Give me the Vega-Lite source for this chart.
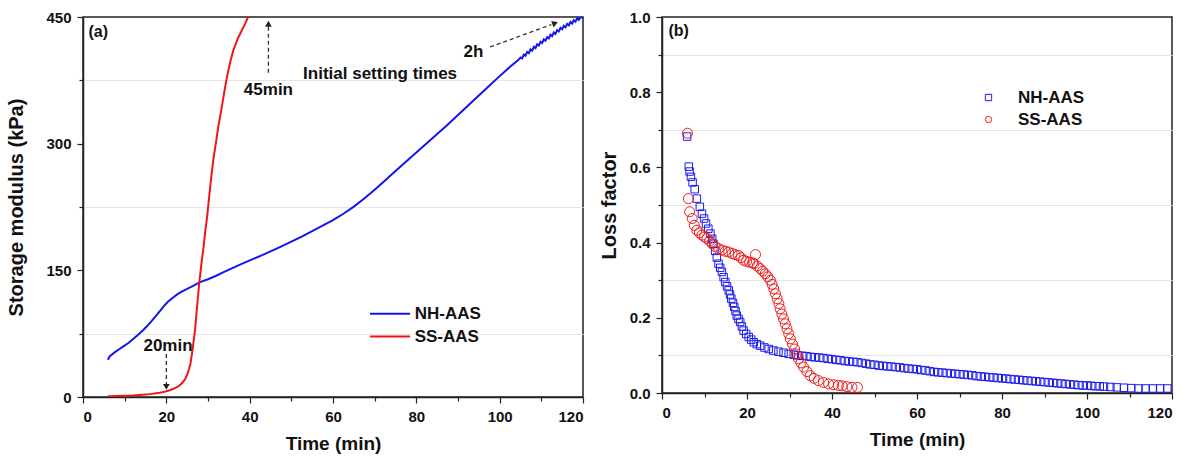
{
  "$schema": "https://vega.github.io/schema/vega-lite/v6.json",
  "usermeta": {"embedOptions": {"actions": false}},
  "background": "white",
  "padding": {"left": 6, "top": 9, "right": 5, "bottom": 5},
  "config": {
    "font": "Liberation Sans",
    "view": {"stroke": "#222222", "strokeWidth": 1.5},
    "axis": {
      "labelFont": "Liberation Sans", "labelFontWeight": "bold", "labelFontSize": 15, "labelColor": "#111111",
      "titleFont": "Liberation Sans", "titleFontWeight": "bold", "titleFontSize": 19, "titleColor": "#111111",
      "domainColor": "#222222", "domainWidth": 1.5, "tickColor": "#222222", "tickWidth": 1.2, "tickSize": 6,
      "grid": false, "labelPadding": 6
    },
    "legend": {"labelFont": "Liberation Sans", "labelFontWeight": "bold", "labelFontSize": 17, "labelColor": "#111111", "padding": 0}
  },
  "datasets": {
    "g": [
      {"s":"NH-AAS","t":6,"v":44},{"s":"NH-AAS","t":6.3,"v":47.5},{"s":"NH-AAS","t":6.6,"v":49},{"s":"NH-AAS","t":7.5,"v":52.5},{"s":"NH-AAS","t":8.5,"v":56},{"s":"NH-AAS","t":9.7,"v":60},{"s":"NH-AAS","t":10.9,"v":64},{"s":"NH-AAS","t":12.1,"v":69},{"s":"NH-AAS","t":13.3,"v":74},{"s":"NH-AAS","t":14.4,"v":79},{"s":"NH-AAS","t":15.4,"v":84},{"s":"NH-AAS","t":16.4,"v":89.5},{"s":"NH-AAS","t":17.4,"v":95.5},{"s":"NH-AAS","t":18.4,"v":101.5},{"s":"NH-AAS","t":19.3,"v":107},{"s":"NH-AAS","t":20.3,"v":112.5},{"s":"NH-AAS","t":21.4,"v":117},{"s":"NH-AAS","t":22.6,"v":121.5},{"s":"NH-AAS","t":23.8,"v":125},{"s":"NH-AAS","t":25,"v":128},{"s":"NH-AAS","t":26.2,"v":131},{"s":"NH-AAS","t":28.1,"v":136},{"s":"NH-AAS","t":30,"v":139.5},{"s":"NH-AAS","t":31.7,"v":143},{"s":"NH-AAS","t":34,"v":148.5},{"s":"NH-AAS","t":36.5,"v":154},{"s":"NH-AAS","t":38.5,"v":158.5},{"s":"NH-AAS","t":40.6,"v":163},{"s":"NH-AAS","t":43,"v":168},{"s":"NH-AAS","t":45,"v":172.5},{"s":"NH-AAS","t":47.5,"v":178},{"s":"NH-AAS","t":50,"v":184},{"s":"NH-AAS","t":52.5,"v":190},{"s":"NH-AAS","t":55,"v":196.5},{"s":"NH-AAS","t":57.5,"v":203},{"s":"NH-AAS","t":60,"v":209.5},{"s":"NH-AAS","t":62.5,"v":217},{"s":"NH-AAS","t":65,"v":225.5},{"s":"NH-AAS","t":67.5,"v":235},{"s":"NH-AAS","t":70,"v":245.5},{"s":"NH-AAS","t":72.5,"v":256.5},{"s":"NH-AAS","t":75,"v":267.5},{"s":"NH-AAS","t":77.5,"v":278.5},{"s":"NH-AAS","t":80,"v":289.5},{"s":"NH-AAS","t":82.5,"v":300.5},{"s":"NH-AAS","t":85,"v":311.5},{"s":"NH-AAS","t":87.5,"v":322.5},{"s":"NH-AAS","t":90,"v":334},{"s":"NH-AAS","t":92.5,"v":345.5},{"s":"NH-AAS","t":95,"v":357},{"s":"NH-AAS","t":97.5,"v":368.5},{"s":"NH-AAS","t":100,"v":380},{"s":"NH-AAS","t":102.5,"v":391},
      {"s":"NH-AAS","t":104.6,"v":399.5},{"s":"NH-AAS","t":105,"v":402},{"s":"NH-AAS","t":105.4,"v":401},{"s":"NH-AAS","t":105.8,"v":405.5},{"s":"NH-AAS","t":106.2,"v":404.1},{"s":"NH-AAS","t":106.6,"v":408.6},{"s":"NH-AAS","t":107,"v":407.1},{"s":"NH-AAS","t":107.4,"v":411.6},{"s":"NH-AAS","t":107.8,"v":410.1},{"s":"NH-AAS","t":108.2,"v":414.7},{"s":"NH-AAS","t":108.6,"v":413.2},{"s":"NH-AAS","t":109,"v":417.7},{"s":"NH-AAS","t":109.4,"v":416.2},{"s":"NH-AAS","t":109.8,"v":420.7},{"s":"NH-AAS","t":110.2,"v":419.2},{"s":"NH-AAS","t":110.6,"v":423.5},{"s":"NH-AAS","t":111,"v":421.9},{"s":"NH-AAS","t":111.4,"v":426.3},{"s":"NH-AAS","t":111.8,"v":424.6},{"s":"NH-AAS","t":112.2,"v":429},{"s":"NH-AAS","t":112.6,"v":427.3},{"s":"NH-AAS","t":113,"v":431.7},{"s":"NH-AAS","t":113.4,"v":430.1},{"s":"NH-AAS","t":113.8,"v":434.4},{"s":"NH-AAS","t":114.2,"v":432.8},{"s":"NH-AAS","t":114.6,"v":437.1},{"s":"NH-AAS","t":115,"v":435.5},{"s":"NH-AAS","t":115.4,"v":439.6},{"s":"NH-AAS","t":115.8,"v":437.7},{"s":"NH-AAS","t":116.2,"v":441.9},{"s":"NH-AAS","t":116.6,"v":440},{"s":"NH-AAS","t":117,"v":444.1},{"s":"NH-AAS","t":117.4,"v":442.2},{"s":"NH-AAS","t":117.8,"v":446.3},{"s":"NH-AAS","t":118.2,"v":444.5},{"s":"NH-AAS","t":118.6,"v":448.6},{"s":"NH-AAS","t":119,"v":446.7},{"s":"NH-AAS","t":119.4,"v":450},{"s":"NH-AAS","t":119.8,"v":449.2},{"s":"NH-AAS","t":120,"v":450},
      {"s":"SS-AAS","t":6,"v":0.8},{"s":"SS-AAS","t":8,"v":1.2},{"s":"SS-AAS","t":10,"v":1.5},{"s":"SS-AAS","t":12,"v":1.9},{"s":"SS-AAS","t":14.2,"v":2.7},{"s":"SS-AAS","t":16,"v":3.4},{"s":"SS-AAS","t":18,"v":4.6},{"s":"SS-AAS","t":19.8,"v":6.6},{"s":"SS-AAS","t":21,"v":8.3},{"s":"SS-AAS","t":22.2,"v":10.7},{"s":"SS-AAS","t":23,"v":13},{"s":"SS-AAS","t":23.8,"v":16.6},{"s":"SS-AAS","t":24.5,"v":21},{"s":"SS-AAS","t":25,"v":26.4},{"s":"SS-AAS","t":25.4,"v":32},{"s":"SS-AAS","t":25.8,"v":40},{"s":"SS-AAS","t":26.3,"v":56},{"s":"SS-AAS","t":26.9,"v":80},{"s":"SS-AAS","t":27.3,"v":103},{"s":"SS-AAS","t":27.9,"v":135},{"s":"SS-AAS","t":28.4,"v":157},{"s":"SS-AAS","t":28.9,"v":176},{"s":"SS-AAS","t":29.3,"v":194},{"s":"SS-AAS","t":29.8,"v":214},{"s":"SS-AAS","t":30.3,"v":238},{"s":"SS-AAS","t":30.8,"v":261},{"s":"SS-AAS","t":31.3,"v":282},{"s":"SS-AAS","t":31.9,"v":301},{"s":"SS-AAS","t":32.5,"v":321},{"s":"SS-AAS","t":33.2,"v":340},{"s":"SS-AAS","t":33.9,"v":361},{"s":"SS-AAS","t":34.6,"v":380},{"s":"SS-AAS","t":35.3,"v":396},{"s":"SS-AAS","t":36.1,"v":411},{"s":"SS-AAS","t":37.1,"v":424},{"s":"SS-AAS","t":38.2,"v":435},{"s":"SS-AAS","t":39,"v":443},{"s":"SS-AAS","t":39.6,"v":450}
    ],
    "leg": [
      {"s":"NH-AAS","t":68.9,"t2":78.5,"tl":79.6,"v":98.7},
      {"s":"SS-AAS","t":68.9,"t2":78.5,"tl":79.6,"v":71.5}
    ],
    "lf": [
      {"s":"NH-AAS","t":5.9,"v":0.682},{"s":"NH-AAS","t":6.3,"v":0.602},{"s":"NH-AAS","t":6.5,"v":0.589},{"s":"NH-AAS","t":6.8,"v":0.575},{"s":"NH-AAS","t":7.2,"v":0.56},{"s":"NH-AAS","t":7.7,"v":0.542},{"s":"NH-AAS","t":8.2,"v":0.517},{"s":"NH-AAS","t":8.9,"v":0.495},{"s":"NH-AAS","t":9.4,"v":0.477},{"s":"NH-AAS","t":9.9,"v":0.464},{"s":"NH-AAS","t":10.35,"v":0.451},{"s":"NH-AAS","t":10.9,"v":0.437},{"s":"NH-AAS","t":11.4,"v":0.424},{"s":"NH-AAS","t":11.8,"v":0.41},{"s":"NH-AAS","t":12.1,"v":0.397},{"s":"NH-AAS","t":12.5,"v":0.378},{"s":"NH-AAS","t":12.9,"v":0.36},{"s":"NH-AAS","t":13.3,"v":0.344},{"s":"NH-AAS","t":13.7,"v":0.333},{"s":"NH-AAS","t":14.1,"v":0.322},{"s":"NH-AAS","t":14.5,"v":0.308},{"s":"NH-AAS","t":14.9,"v":0.295},{"s":"NH-AAS","t":15.3,"v":0.284},{"s":"NH-AAS","t":15.7,"v":0.273},{"s":"NH-AAS","t":16,"v":0.262},{"s":"NH-AAS","t":16.3,"v":0.251},{"s":"NH-AAS","t":16.7,"v":0.24},{"s":"NH-AAS","t":17,"v":0.229},{"s":"NH-AAS","t":17.3,"v":0.218},{"s":"NH-AAS","t":17.6,"v":0.206},{"s":"NH-AAS","t":18,"v":0.197},{"s":"NH-AAS","t":18.4,"v":0.189},{"s":"NH-AAS","t":18.8,"v":0.177},{"s":"NH-AAS","t":19.2,"v":0.166},{"s":"NH-AAS","t":19.8,"v":0.157},{"s":"NH-AAS","t":20.4,"v":0.149},{"s":"NH-AAS","t":21,"v":0.142},{"s":"NH-AAS","t":21.6,"v":0.135},{"s":"NH-AAS","t":22.3,"v":0.13},{"s":"NH-AAS","t":23.1,"v":0.126},{"s":"NH-AAS","t":24.1,"v":0.121},{"s":"NH-AAS","t":25.1,"v":0.117},{"s":"NH-AAS","t":26.2,"v":0.113},{"s":"NH-AAS","t":27.4,"v":0.11},{"s":"NH-AAS","t":28.6,"v":0.107},{"s":"NH-AAS","t":29.8,"v":0.104},{"s":"NH-AAS","t":31,"v":0.102},{"s":"NH-AAS","t":32,"v":0.1},{"s":"NH-AAS","t":33,"v":0.099},{"s":"NH-AAS","t":34,"v":0.098},{"s":"NH-AAS","t":35,"v":0.096},{"s":"NH-AAS","t":36,"v":0.095},{"s":"NH-AAS","t":37,"v":0.094},{"s":"NH-AAS","t":38,"v":0.093},{"s":"NH-AAS","t":39,"v":0.091},{"s":"NH-AAS","t":40,"v":0.09},{"s":"NH-AAS","t":41,"v":0.088},{"s":"NH-AAS","t":42,"v":0.087},{"s":"NH-AAS","t":43,"v":0.085},{"s":"NH-AAS","t":44,"v":0.084},{"s":"NH-AAS","t":45,"v":0.083},{"s":"NH-AAS","t":46,"v":0.082},{"s":"NH-AAS","t":47,"v":0.08},{"s":"NH-AAS","t":48,"v":0.078},{"s":"NH-AAS","t":49,"v":0.076},{"s":"NH-AAS","t":50,"v":0.075},{"s":"NH-AAS","t":51,"v":0.073},{"s":"NH-AAS","t":52,"v":0.072},{"s":"NH-AAS","t":53,"v":0.071},{"s":"NH-AAS","t":54,"v":0.07},{"s":"NH-AAS","t":55,"v":0.069},{"s":"NH-AAS","t":56,"v":0.068},{"s":"NH-AAS","t":57,"v":0.066},{"s":"NH-AAS","t":58,"v":0.065},{"s":"NH-AAS","t":59,"v":0.064},{"s":"NH-AAS","t":60,"v":0.063},{"s":"NH-AAS","t":61,"v":0.061},{"s":"NH-AAS","t":62,"v":0.06},{"s":"NH-AAS","t":63,"v":0.058},{"s":"NH-AAS","t":64,"v":0.056},{"s":"NH-AAS","t":65,"v":0.055},{"s":"NH-AAS","t":66,"v":0.054},{"s":"NH-AAS","t":67,"v":0.053},{"s":"NH-AAS","t":68,"v":0.052},{"s":"NH-AAS","t":69,"v":0.051},{"s":"NH-AAS","t":70,"v":0.05},{"s":"NH-AAS","t":71,"v":0.049},{"s":"NH-AAS","t":72,"v":0.048},{"s":"NH-AAS","t":73,"v":0.047},{"s":"NH-AAS","t":74,"v":0.045},{"s":"NH-AAS","t":75,"v":0.044},{"s":"NH-AAS","t":76,"v":0.043},{"s":"NH-AAS","t":77,"v":0.042},{"s":"NH-AAS","t":78,"v":0.041},{"s":"NH-AAS","t":79,"v":0.04},{"s":"NH-AAS","t":80,"v":0.039},{"s":"NH-AAS","t":81,"v":0.038},{"s":"NH-AAS","t":82,"v":0.037},{"s":"NH-AAS","t":83,"v":0.036},{"s":"NH-AAS","t":84,"v":0.035},{"s":"NH-AAS","t":85,"v":0.034},{"s":"NH-AAS","t":86,"v":0.033},{"s":"NH-AAS","t":87,"v":0.032},{"s":"NH-AAS","t":88,"v":0.031},{"s":"NH-AAS","t":89,"v":0.03},{"s":"NH-AAS","t":90,"v":0.029},{"s":"NH-AAS","t":91,"v":0.028},{"s":"NH-AAS","t":92,"v":0.027},{"s":"NH-AAS","t":93,"v":0.026},{"s":"NH-AAS","t":94,"v":0.025},{"s":"NH-AAS","t":95,"v":0.024},{"s":"NH-AAS","t":96,"v":0.023},{"s":"NH-AAS","t":97,"v":0.022},{"s":"NH-AAS","t":98,"v":0.021},{"s":"NH-AAS","t":99,"v":0.02},{"s":"NH-AAS","t":100,"v":0.02},{"s":"NH-AAS","t":101,"v":0.019},{"s":"NH-AAS","t":102,"v":0.018},{"s":"NH-AAS","t":103,"v":0.018},{"s":"NH-AAS","t":104,"v":0.017},{"s":"NH-AAS","t":105.5,"v":0.016},{"s":"NH-AAS","t":107,"v":0.015},{"s":"NH-AAS","t":108.7,"v":0.014},{"s":"NH-AAS","t":110.4,"v":0.013},{"s":"NH-AAS","t":112.1,"v":0.012},{"s":"NH-AAS","t":113.8,"v":0.012},{"s":"NH-AAS","t":115.5,"v":0.012},{"s":"NH-AAS","t":117.2,"v":0.012},{"s":"NH-AAS","t":118.9,"v":0.012},
      {"s":"SS-AAS","t":6,"v":0.691},{"s":"SS-AAS","t":6.2,"v":0.517},{"s":"SS-AAS","t":6.5,"v":0.482},{"s":"SS-AAS","t":7.1,"v":0.464},{"s":"SS-AAS","t":7.6,"v":0.446},{"s":"SS-AAS","t":8.2,"v":0.433},{"s":"SS-AAS","t":8.8,"v":0.426},{"s":"SS-AAS","t":9.4,"v":0.42},{"s":"SS-AAS","t":10,"v":0.415},{"s":"SS-AAS","t":10.6,"v":0.411},{"s":"SS-AAS","t":11.2,"v":0.404},{"s":"SS-AAS","t":11.8,"v":0.397},{"s":"SS-AAS","t":12.5,"v":0.39},{"s":"SS-AAS","t":13.3,"v":0.384},{"s":"SS-AAS","t":14.1,"v":0.38},{"s":"SS-AAS","t":14.9,"v":0.377},{"s":"SS-AAS","t":15.7,"v":0.375},{"s":"SS-AAS","t":16.5,"v":0.371},{"s":"SS-AAS","t":17.2,"v":0.368},{"s":"SS-AAS","t":18,"v":0.366},{"s":"SS-AAS","t":18.6,"v":0.36},{"s":"SS-AAS","t":19.2,"v":0.353},{"s":"SS-AAS","t":19.9,"v":0.35},{"s":"SS-AAS","t":20.6,"v":0.348},{"s":"SS-AAS","t":21.3,"v":0.346},{"s":"SS-AAS","t":21.6,"v":0.344},{"s":"SS-AAS","t":22,"v":0.368},{"s":"SS-AAS","t":22.4,"v":0.338},{"s":"SS-AAS","t":23.1,"v":0.331},{"s":"SS-AAS","t":23.7,"v":0.324},{"s":"SS-AAS","t":24.3,"v":0.317},{"s":"SS-AAS","t":24.9,"v":0.309},{"s":"SS-AAS","t":25.5,"v":0.3},{"s":"SS-AAS","t":25.9,"v":0.289},{"s":"SS-AAS","t":26.3,"v":0.277},{"s":"SS-AAS","t":26.7,"v":0.264},{"s":"SS-AAS","t":27.1,"v":0.251},{"s":"SS-AAS","t":27.5,"v":0.238},{"s":"SS-AAS","t":27.8,"v":0.224},{"s":"SS-AAS","t":28.2,"v":0.21},{"s":"SS-AAS","t":28.6,"v":0.197},{"s":"SS-AAS","t":29,"v":0.184},{"s":"SS-AAS","t":29.4,"v":0.171},{"s":"SS-AAS","t":29.8,"v":0.158},{"s":"SS-AAS","t":30.2,"v":0.144},{"s":"SS-AAS","t":30.7,"v":0.13},{"s":"SS-AAS","t":31.2,"v":0.117},{"s":"SS-AAS","t":31.6,"v":0.104},{"s":"SS-AAS","t":32.1,"v":0.091},{"s":"SS-AAS","t":32.7,"v":0.08},{"s":"SS-AAS","t":33.3,"v":0.069},{"s":"SS-AAS","t":34.1,"v":0.057},{"s":"SS-AAS","t":34.9,"v":0.046},{"s":"SS-AAS","t":35.8,"v":0.039},{"s":"SS-AAS","t":36.8,"v":0.033},{"s":"SS-AAS","t":38,"v":0.028},{"s":"SS-AAS","t":39.2,"v":0.024},{"s":"SS-AAS","t":40.4,"v":0.022},{"s":"SS-AAS","t":41.5,"v":0.02},{"s":"SS-AAS","t":42.4,"v":0.019},{"s":"SS-AAS","t":43.5,"v":0.017},{"s":"SS-AAS","t":44.7,"v":0.015},{"s":"SS-AAS","t":46,"v":0.015}
    ]
  },
  "bounds": "flush",
  "spacing": 79,
  "resolve": {
    "scale": {"color": "independent", "shape": "independent"},
    "legend": {"color": "independent", "shape": "independent"}
  },
  "hconcat": [
    {
      "width": 500, "height": 380,
      "resolve": {"axis": {"x": "independent", "y": "independent"}},
      "layer": [
        {
          "data": {"name": "g"},
          "mark": {"type": "line", "strokeWidth": 2, "clip": true},
          "encoding": {
            "x": {"field": "t", "type": "quantitative", "scale": {"domain": [0, 120], "nice": false},
                  "axis": {"orient": "bottom", "values": [0, 20, 40, 60, 80, 100, 120], "title": "Time (min)", "titlePadding": 10}},
            "y": {"field": "v", "type": "quantitative", "scale": {"domain": [0, 450], "nice": false},
                  "axis": {"orient": "left", "values": [0, 150, 300, 450], "title": "Storage modulus (kPa)", "titlePadding": 19, "titleFontSize": 20}},
            "color": {"field": "s", "type": "nominal",
                      "scale": {"domain": ["NH-AAS", "SS-AAS"], "range": ["#1414f0", "#f01414"]},
                      "legend": null}
          }
        },
        {
          "data": {"name": "g"},
          "mark": {"type": "point", "opacity": 0},
          "encoding": {
            "x": {"field": "t", "type": "quantitative", "scale": {"domain": [0, 120], "nice": false},
                  "axis": {"orient": "bottom", "values": [10, 30, 50, 70, 90, 110], "labels": false, "domain": false, "tickSize": 4, "title": null}},
            "y": {"field": "v", "type": "quantitative", "scale": {"domain": [0, 450], "nice": false},
                  "axis": {"orient": "left", "values": [75, 225, 375], "labels": false, "domain": false, "tickSize": 4, "title": null, "grid": true, "gridColor": "#e6e6e6", "gridWidth": 1}}
          }
        },
        {
          "data": {"name": "leg"},
          "mark": {"type": "rule", "strokeWidth": 2},
          "encoding": {
            "x": {"field": "t", "type": "quantitative", "scale": {"domain": [0, 120], "nice": false}, "axis": null},
            "x2": {"field": "t2"},
            "y": {"field": "v", "type": "quantitative", "scale": {"domain": [0, 450], "nice": false}, "axis": null},
            "color": {"field": "s", "type": "nominal", "scale": {"domain": ["NH-AAS", "SS-AAS"], "range": ["#1414f0", "#f01414"]}, "legend": null}
          }
        },
        {
          "data": {"name": "leg"},
          "mark": {"type": "text", "font": "Liberation Sans", "fontWeight": "bold", "fontSize": 17, "color": "#111111", "align": "left", "baseline": "middle"},
          "encoding": {
            "x": {"field": "tl", "type": "quantitative", "scale": {"domain": [0, 120], "nice": false}, "axis": null},
            "y": {"field": "v", "type": "quantitative", "scale": {"domain": [0, 450], "nice": false}, "axis": null},
            "text": {"field": "s"}
          }
        },
        {
          "data": {"values": [
            {"t": 44.5, "v": 384, "t2": 44.5, "v2": 439},
            {"t": 20, "v": 51, "t2": 20, "v2": 15},
            {"t": 97.7, "v": 414.5, "t2": 112.4, "v2": 441}
          ]},
          "mark": {"type": "rule", "strokeDash": [4, 3], "strokeWidth": 1.3, "color": "#333333"},
          "encoding": {
            "x": {"field": "t", "type": "quantitative", "scale": {"domain": [0, 120], "nice": false}, "axis": null},
            "y": {"field": "v", "type": "quantitative", "scale": {"domain": [0, 450], "nice": false}, "axis": null},
            "x2": {"field": "t2"},
            "y2": {"field": "v2"}
          }
        },
        {
          "data": {"values": [{"t": 44.5, "v": 442}]},
          "mark": {"type": "point", "shape": "triangle-up", "filled": true, "size": 45, "color": "#222222", "opacity": 1},
          "encoding": {
            "x": {"field": "t", "type": "quantitative", "scale": {"domain": [0, 120], "nice": false}, "axis": null},
            "y": {"field": "v", "type": "quantitative", "scale": {"domain": [0, 450], "nice": false}, "axis": null}
          }
        },
        {
          "data": {"values": [{"t": 20, "v": 12}]},
          "mark": {"type": "point", "shape": "triangle-down", "filled": true, "size": 45, "color": "#222222", "opacity": 1},
          "encoding": {
            "x": {"field": "t", "type": "quantitative", "scale": {"domain": [0, 120], "nice": false}, "axis": null},
            "y": {"field": "v", "type": "quantitative", "scale": {"domain": [0, 450], "nice": false}, "axis": null}
          }
        },
        {
          "data": {"values": [{"t": 113.3, "v": 442.6}]},
          "mark": {"type": "point", "shape": "triangle-right", "angle": -20.5, "filled": true, "size": 45, "color": "#222222", "opacity": 1},
          "encoding": {
            "x": {"field": "t", "type": "quantitative", "scale": {"domain": [0, 120], "nice": false}, "axis": null},
            "y": {"field": "v", "type": "quantitative", "scale": {"domain": [0, 450], "nice": false}, "axis": null}
          }
        },
        {
          "data": {"values": [
            {"t": 44.5, "v": 364, "label": "45min"},
            {"t": 20.4, "v": 60, "label": "20min"},
            {"t": 93.7, "v": 408, "label": "2h"},
            {"t": 71.3, "v": 383, "label": "Initial setting times"}
          ]},
          "mark": {"type": "text", "font": "Liberation Sans", "fontWeight": "bold", "fontSize": 17, "color": "#111111", "align": "center", "baseline": "middle"},
          "encoding": {
            "x": {"field": "t", "type": "quantitative", "scale": {"domain": [0, 120], "nice": false}, "axis": null},
            "y": {"field": "v", "type": "quantitative", "scale": {"domain": [0, 450], "nice": false}, "axis": null},
            "text": {"field": "label"}
          }
        },
        {
          "data": {"values": [{"t": 1.3, "v": 432, "label": "(a)"}]},
          "mark": {"type": "text", "font": "Liberation Sans", "fontWeight": "bold", "fontSize": 16, "color": "#111111", "align": "left", "baseline": "middle"},
          "encoding": {
            "x": {"field": "t", "type": "quantitative", "scale": {"domain": [0, 120], "nice": false}, "axis": null},
            "y": {"field": "v", "type": "quantitative", "scale": {"domain": [0, 450], "nice": false}, "axis": null},
            "text": {"field": "label"}
          }
        }
      ]
    },
    {
      "width": 510, "height": 376,
      "resolve": {"axis": {"x": "independent", "y": "independent"}},
      "layer": [
        {
          "data": {"name": "lf"},
          "transform": [{"filter": "datum.s == 'NH-AAS'"}],
          "mark": {"type": "point", "filled": false, "strokeWidth": 1, "size": 56, "opacity": 1, "clip": true},
          "encoding": {
            "x": {"field": "t", "type": "quantitative", "scale": {"domain": [0, 120], "nice": false},
                  "axis": {"orient": "bottom", "values": [0, 20, 40, 60, 80, 100, 120], "title": "Time (min)", "titlePadding": 10}},
            "y": {"field": "v", "type": "quantitative", "scale": {"domain": [0, 1], "nice": false},
                  "axis": {"orient": "left", "values": [0, 0.2, 0.4, 0.6, 0.8, 1.0], "format": ".1f", "title": "Loss factor", "titlePadding": 10, "titleFontSize": 20}},
            "color": {"field": "s", "type": "nominal",
                      "scale": {"domain": ["NH-AAS", "SS-AAS"], "range": ["#1a1af0", "#f01a1a"]},
                      "legend": {"orient": "none", "legendX": 318, "legendY": 72, "title": null, "symbolSize": 40, "symbolStrokeWidth": 1, "labelOffset": 21, "rowPadding": 4}},
            "shape": {"field": "s", "type": "nominal",
                      "scale": {"domain": ["NH-AAS", "SS-AAS"], "range": ["square", "circle"]},
                      "legend": {"orient": "none", "legendX": 318, "legendY": 72, "title": null, "symbolSize": 40, "symbolStrokeWidth": 1, "labelOffset": 21, "rowPadding": 4}}
          }
        },
        {
          "data": {"name": "lf"},
          "transform": [{"filter": "datum.s == 'SS-AAS'"}],
          "mark": {"type": "point", "filled": false, "strokeWidth": 1, "size": 100, "opacity": 1, "clip": true},
          "encoding": {
            "x": {"field": "t", "type": "quantitative", "scale": {"domain": [0, 120], "nice": false}, "axis": null},
            "y": {"field": "v", "type": "quantitative", "scale": {"domain": [0, 1], "nice": false}, "axis": null},
            "color": {"field": "s", "type": "nominal",
                      "scale": {"domain": ["NH-AAS", "SS-AAS"], "range": ["#1a1af0", "#f01a1a"]},
                      "legend": {"orient": "none", "legendX": 318, "legendY": 72, "title": null, "symbolSize": 40, "symbolStrokeWidth": 1, "labelOffset": 21, "rowPadding": 4}},
            "shape": {"field": "s", "type": "nominal",
                      "scale": {"domain": ["NH-AAS", "SS-AAS"], "range": ["square", "circle"]},
                      "legend": {"orient": "none", "legendX": 318, "legendY": 72, "title": null, "symbolSize": 40, "symbolStrokeWidth": 1, "labelOffset": 21, "rowPadding": 4}}
          }
        },
        {
          "data": {"name": "lf"},
          "mark": {"type": "point", "opacity": 0},
          "encoding": {
            "x": {"field": "t", "type": "quantitative", "scale": {"domain": [0, 120], "nice": false},
                  "axis": {"orient": "bottom", "values": [10, 30, 50, 70, 90, 110], "labels": false, "domain": false, "tickSize": 4, "title": null}},
            "y": {"field": "v", "type": "quantitative", "scale": {"domain": [0, 1], "nice": false},
                  "axis": {"orient": "left", "values": [0.1, 0.3, 0.5, 0.7, 0.9], "labels": false, "domain": false, "tickSize": 4, "title": null, "grid": true, "gridColor": "#e6e6e6", "gridWidth": 1}}
          }
        },
        {
          "data": {"values": [{"t": 1.5, "v": 0.963, "label": "(b)"}]},
          "mark": {"type": "text", "font": "Liberation Sans", "fontWeight": "bold", "fontSize": 16, "color": "#111111", "align": "left", "baseline": "middle"},
          "encoding": {
            "x": {"field": "t", "type": "quantitative", "scale": {"domain": [0, 120], "nice": false}, "axis": null},
            "y": {"field": "v", "type": "quantitative", "scale": {"domain": [0, 1], "nice": false}, "axis": null},
            "text": {"field": "label"}
          }
        }
      ]
    }
  ]
}
